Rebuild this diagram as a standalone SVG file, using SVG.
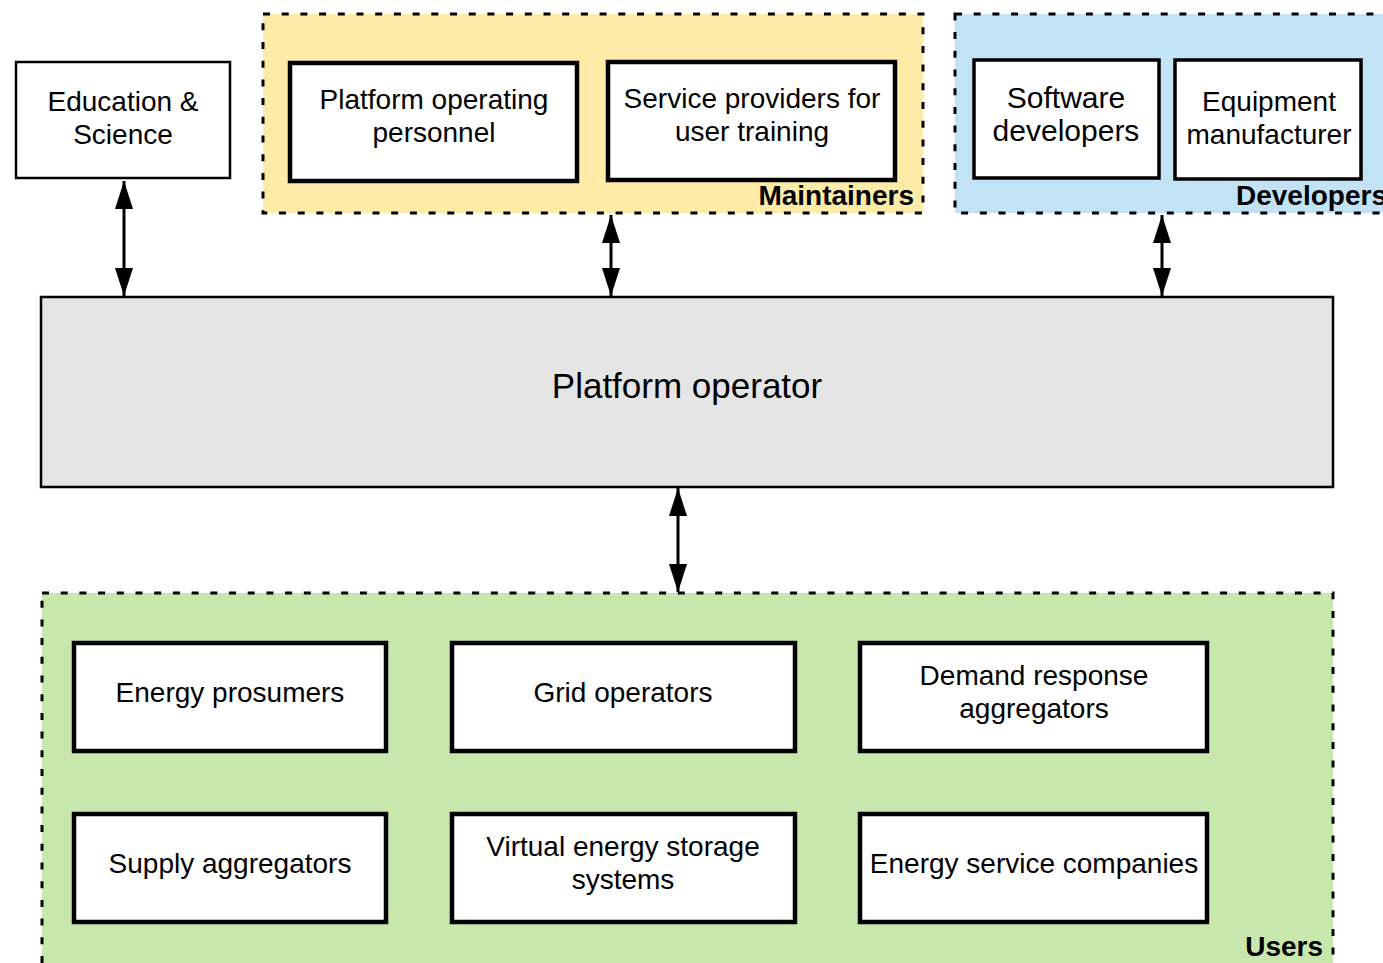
<svg xmlns="http://www.w3.org/2000/svg" width="1383" height="963" viewBox="0 0 1383 963">
  <style>
    text { font-family: "Liberation Sans", Arial, sans-serif; fill: #000; }
    .t { font-size: 28px; text-anchor: middle; }
    .t30 { font-size: 30px; text-anchor: middle; }
    .big { font-size: 35px; text-anchor: middle; }
    .lbl { font-size: 28px; font-weight: bold; text-anchor: end; }
    .grp { stroke: #000; stroke-width: 3; stroke-dasharray: 7 11.7; }
    .box { fill: #fff; stroke: #000; }
    .thin { stroke-width: 2.5; }
    .mid { stroke-width: 3.5; }
    .thick { stroke-width: 4.5; }
    .conn { stroke: #000; stroke-width: 3; fill: none; marker-start: url(#head); marker-end: url(#head); }
  </style>
  <defs>
    <marker id="head" viewBox="0 0 28 18" markerWidth="28" markerHeight="18" refX="28" refY="9" orient="auto-start-reverse" markerUnits="userSpaceOnUse">
      <path d="M0,0 L28,9 L0,18 z" fill="#000"/>
    </marker>
  </defs>

  <rect width="1383" height="963" fill="#fff"/>

  <!-- Maintainers cluster -->
  <g id="maintainers">
    <rect class="grp" x="263" y="14" width="660" height="199" fill="#FFEBA8"/>
    <text class="lbl" x="914" y="205">Maintainers</text>
  </g>

  <!-- Developers cluster (runs past the right edge) -->
  <g id="developers">
    <rect class="grp" x="955" y="14" width="440" height="199" fill="#C2E3F6"/>
    <text x="1236" y="205" font-size="28" font-weight="bold">Developers</text>
  </g>

  <!-- Users cluster (runs past the bottom edge) -->
  <g id="users">
    <rect class="grp" x="42" y="593" width="1291" height="390" fill="#C7E7AD"/>
    <text class="lbl" x="1323" y="956">Users</text>
  </g>

  <g id="education">
    <rect class="box thin" x="16" y="62" width="214" height="116"/>
    <text class="t" x="123" y="111">Education &amp;</text>
    <text class="t" x="123" y="144">Science</text>
  </g>

  <g id="platform-personnel">
    <rect class="box thick" x="290" y="63" width="287" height="118"/>
    <text class="t" x="434" y="109">Platform operating</text>
    <text class="t" x="434" y="142">personnel</text>
  </g>

  <g id="service-providers">
    <rect class="box thick" x="608" y="62" width="287" height="118"/>
    <text class="t" x="752" y="108">Service providers for</text>
    <text class="t" x="752" y="141">user training</text>
  </g>

  <g id="software-developers">
    <rect class="box mid" x="974" y="60" width="185" height="118"/>
    <text class="t30" x="1066" y="108">Software</text>
    <text class="t30" x="1066" y="141">developers</text>
  </g>

  <g id="equipment-manufacturer">
    <rect class="box mid" x="1175" y="60" width="186" height="119"/>
    <text class="t" x="1269" y="111">Equipment</text>
    <text class="t" x="1269" y="144">manufacturer</text>
  </g>

  <g id="platform-operator">
    <rect x="41" y="297" width="1292" height="190" fill="#E5E5E5" stroke="#000" stroke-width="2.5"/>
    <text class="big" x="687" y="398">Platform operator</text>
  </g>

  <g id="energy-prosumers">
    <rect class="box thick" x="74" y="643" width="312" height="108"/>
    <text class="t" x="230" y="702">Energy prosumers</text>
  </g>

  <g id="grid-operators">
    <rect class="box thick" x="452" y="643" width="343" height="108"/>
    <text class="t" x="623" y="702">Grid operators</text>
  </g>

  <g id="demand-response">
    <rect class="box thick" x="860" y="643" width="347" height="108"/>
    <text class="t" x="1034" y="685">Demand response</text>
    <text class="t" x="1034" y="718">aggregators</text>
  </g>

  <g id="supply-aggregators">
    <rect class="box thick" x="74" y="814" width="312" height="108"/>
    <text class="t" x="230" y="873">Supply aggregators</text>
  </g>

  <g id="virtual-storage">
    <rect class="box thick" x="452" y="814" width="343" height="108"/>
    <text class="t" x="623" y="856">Virtual energy storage</text>
    <text class="t" x="623" y="889">systems</text>
  </g>

  <g id="energy-service-companies">
    <rect class="box thick" x="860" y="814" width="347" height="108"/>
    <text class="t" x="1034" y="873">Energy service companies</text>
  </g>

  <!-- Two-way links to the platform operator -->
  <g id="connectors">
    <line class="conn" x1="124" y1="181" x2="124" y2="296"/>
    <line class="conn" x1="611" y1="215" x2="611" y2="296"/>
    <line class="conn" x1="1162" y1="215" x2="1162" y2="296"/>
    <line class="conn" x1="678" y1="488" x2="678" y2="592"/>
  </g>
</svg>
